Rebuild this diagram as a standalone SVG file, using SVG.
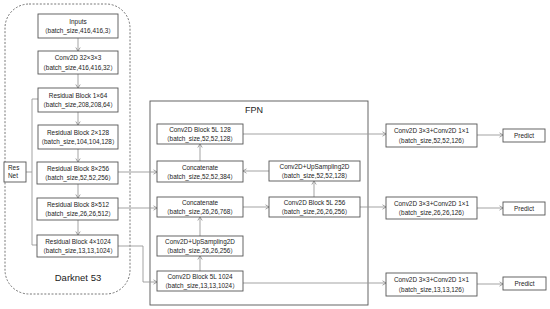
<svg xmlns="http://www.w3.org/2000/svg" width="550" height="309" viewBox="0 0 550 309">
<defs>
<marker id="ah" markerWidth="6" markerHeight="6" refX="4.5" refY="3" orient="auto" markerUnits="userSpaceOnUse">
<path d="M1,0.8 L4.5,3 L1,5.2" fill="none" stroke="#8a8a8a" stroke-width="0.8"/>
</marker>
<style>
.bx{fill:#fff;stroke:#555;stroke-width:0.9}
.t{font-family:"Liberation Sans","Noto Sans CJK SC",sans-serif;font-size:6.4px;fill:#222;text-anchor:middle}
.c{fill:none;stroke:#999;stroke-width:0.9}
.a{marker-end:url(#ah)}
</style>
</defs>
<rect width="550" height="309" fill="#fff"/>
<g id="darknet-frame">
<rect x="5" y="4" width="125" height="290" rx="24" ry="24" fill="none" stroke="#555" stroke-width="0.8" stroke-dasharray="2,1.6"/>
<text x="78" y="281" style="font-family:'Liberation Sans',sans-serif;font-size:9.5px;fill:#222;text-anchor:middle">Darknet 53</text>
</g>
<g id="fpn-frame">
<rect x="150" y="101" width="218" height="204" fill="none" stroke="#555" stroke-width="0.9"/>
<text x="254" y="113" style="font-family:'Liberation Sans',sans-serif;font-size:9px;fill:#222;text-anchor:middle">FPN</text>
</g>
<g id="connectors">
<line class="c a" x1="78" y1="38" x2="78" y2="51"/>
<line class="c a" x1="78" y1="74" x2="78" y2="88"/>
<line class="c a" x1="78" y1="112" x2="78" y2="125"/>
<line class="c a" x1="78" y1="149" x2="78" y2="162"/>
<line class="c a" x1="78" y1="184" x2="78" y2="198"/>
<line class="c a" x1="78" y1="220" x2="78" y2="235"/>
<polyline class="c" points="38,99 32,99 32,245 37,245"/>
<line class="c" x1="26" y1="172" x2="32" y2="172"/>
<line class="c a" x1="118" y1="172" x2="157" y2="172"/>
<line class="c a" x1="118" y1="208" x2="157" y2="208"/>
<polyline class="c a" points="118,246 143,246 143,282 157,282"/>
<line class="c a" x1="200" y1="271" x2="200" y2="256"/>
<line class="c a" x1="200" y1="236" x2="200" y2="217"/>
<line class="c a" x1="243" y1="207" x2="269" y2="207"/>
<line class="c a" x1="314" y1="197" x2="314" y2="181"/>
<line class="c a" x1="269" y1="171" x2="243" y2="171"/>
<line class="c a" x1="200" y1="161" x2="200" y2="144"/>
<line class="c a" x1="243" y1="134" x2="386" y2="134"/>
<line class="c a" x1="360" y1="207" x2="386" y2="207"/>
<line class="c a" x1="243" y1="283" x2="386" y2="283"/>
<line class="c a" x1="477" y1="135" x2="503" y2="135"/>
<line class="c a" x1="477" y1="208" x2="503" y2="208"/>
<line class="c a" x1="477" y1="284" x2="503" y2="284"/>
</g>
<g id="inputs"><rect class="bx" x="38" y="14" width="80" height="24"/><text class="t" x="78" y="23.5">Inputs</text><text class="t" x="78" y="33">（batch_size,416,416,3）</text></g>
<g id="conv2d32"><rect class="bx" x="38" y="51" width="80" height="23"/><text class="t" x="78" y="60">Conv2D 32×3×3</text><text class="t" x="78" y="69.5">（batch_size,416,416,32）</text></g>
<g id="res1"><rect class="bx" x="38" y="88" width="80" height="24"/><text class="t" x="78" y="97.5">Residual Block 1×64</text><text class="t" x="78" y="107">（batch_size,208,208,64）</text></g>
<g id="res2"><rect class="bx" x="38" y="125" width="80" height="24"/><text class="t" x="78" y="134.5">Residual Block 2×128</text><text class="t" x="78" y="144">（batch_size,104,104,128）</text></g>
<g id="res8a"><rect class="bx" x="37" y="162" width="81" height="22"/><text class="t" x="78" y="170.5">Residual Block 8×256</text><text class="t" x="78" y="180">（batch_size,52,52,256）</text></g>
<g id="res8b"><rect class="bx" x="37" y="198" width="81" height="22"/><text class="t" x="78" y="206.5">Residual Block 8×512</text><text class="t" x="78" y="216">（batch_size,26,26,512）</text></g>
<g id="res4"><rect class="bx" x="37" y="235" width="81" height="22"/><text class="t" x="78" y="243.5">Residual Block 4×1024</text><text class="t" x="78" y="253">（batch_size,13,13,1024）</text></g>
<g id="resnet"><rect class="bx" x="4" y="162" width="22" height="20"/><text class="t" x="8" y="170" style="text-anchor:start">Res</text><text class="t" x="8" y="178" style="text-anchor:start">Net</text></g>
<g id="c5l128"><rect class="bx" x="157" y="124" width="86" height="20"/><text class="t" x="200" y="132">Conv2D Block 5L 128</text><text class="t" x="200" y="141">（batch_size,52,52,128）</text></g>
<g id="concat384"><rect class="bx" x="157" y="161" width="86" height="21"/><text class="t" x="200" y="169.5">Concatenate</text><text class="t" x="200" y="178.5">（batch_size,52,52,384）</text></g>
<g id="concat768"><rect class="bx" x="157" y="197" width="86" height="20"/><text class="t" x="200" y="205">Concatenate</text><text class="t" x="200" y="214">（batch_size,26,26,768）</text></g>
<g id="up256"><rect class="bx" x="157" y="236" width="86" height="20"/><text class="t" x="200" y="244">Conv2D+UpSampling2D</text><text class="t" x="200" y="253">（batch_size,26,26,256）</text></g>
<g id="c5l1024"><rect class="bx" x="157" y="271" width="86" height="20"/><text class="t" x="200" y="279">Conv2D Block 5L 1024</text><text class="t" x="200" y="288">（batch_size,13,13,1024）</text></g>
<g id="up128"><rect class="bx" x="269" y="161" width="91" height="20"/><text class="t" x="314.5" y="169">Conv2D+UpSampling2D</text><text class="t" x="314.5" y="178">（batch_size,52,52,128）</text></g>
<g id="c5l256"><rect class="bx" x="269" y="197" width="91" height="20"/><text class="t" x="314.5" y="205">Conv2D Block 5L 256</text><text class="t" x="314.5" y="214">（batch_size,26,26,256）</text></g>
<g id="head52"><rect class="bx" x="386" y="124" width="91" height="23"/><text class="t" x="431.5" y="133">Conv2D 3×3+Conv2D 1×1</text><text class="t" x="431.5" y="142.5">（batch_size,52,52,126）</text></g>
<g id="head26"><rect class="bx" x="386" y="197" width="91" height="22"/><text class="t" x="431.5" y="205.5">Conv2D 3×3+Conv2D 1×1</text><text class="t" x="431.5" y="215">（batch_size,26,26,126）</text></g>
<g id="head13"><rect class="bx" x="386" y="273" width="91" height="23"/><text class="t" x="431.5" y="282">Conv2D 3×3+Conv2D 1×1</text><text class="t" x="431.5" y="291.5">（batch_size,13,13,126）</text></g>
<g id="pred52"><rect class="bx" x="503" y="129" width="42" height="13"/><text class="t" x="524" y="137.8">Predict</text></g>
<g id="pred26"><rect class="bx" x="503" y="202" width="42" height="13"/><text class="t" x="524" y="210.8">Predict</text></g>
<g id="pred13"><rect class="bx" x="503" y="277" width="43" height="13"/><text class="t" x="524.5" y="285.8">Predict</text></g>
</svg>
